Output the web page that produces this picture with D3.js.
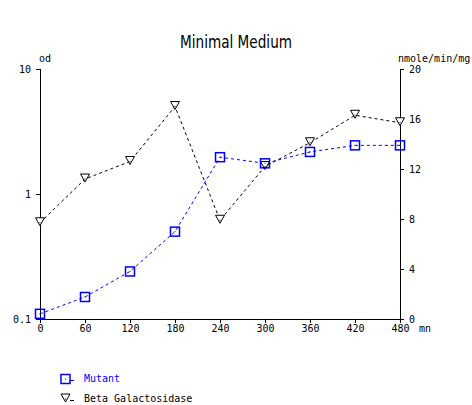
<!DOCTYPE html>
<html><head><meta charset="utf-8">
<script src="https://cdn.jsdelivr.net/npm/d3@7"></script>
<style>
body{margin:0;background:#fff;}
svg{display:block;}
text{font-family:"DejaVu Sans Mono",monospace;font-size:10px;}
</style></head>
<body>
<svg id="chart" width="472" height="405"></svg>
<script>
const times = [0, 60, 120, 180, 240, 300, 360, 420, 480];
const mutantOD = [0.11, 0.15, 0.24, 0.5, 1.97, 1.76, 2.17, 2.45, 2.45];
const betaGal = [7.7, 11.2, 12.6, 17.0, 7.9, 12.2, 14.1, 16.3, 15.7];
const xTicks = [0, 60, 120, 180, 240, 300, 360, 420, 480];
const leftTicks = [0.1, 1, 10];
const leftTickLabels = ["0.1", "1", "10"];
const rightTicks = [0, 4, 8, 12, 16, 20];
const seriesNames = ["Mutant", "Beta Galactosidase"];

const svg = d3.select("#chart");
const x = d3.scaleLinear().domain([0, 480]).range([40, 400]);
const yL = d3.scaleLog().domain([0.1, 10]).range([319, 69]);
const yR = d3.scaleLinear().domain([0, 20]).range([319, 69]);

// title
svg.append("text").attr("x", 236).attr("y", 48).attr("text-anchor", "middle")
  .attr("textLength", 112).attr("lengthAdjust", "spacingAndGlyphs")
  .style("font-family", "'DejaVu Sans',sans-serif").style("font-size", "17px")
  .style("font-weight", "normal").attr("fill", "#000")
  .text("Minimal Medium");

// bottom axis
const xAxis = d3.axisBottom(x).tickValues(xTicks).tickSize(4).tickPadding(3).tickFormat(d3.format("d"));
const gx = svg.append("g").attr("transform", "translate(0,319)").call(xAxis);
gx.select(".domain").attr("d", "M40,0.5H401").attr("stroke", "#000").attr("stroke-width", 1);
gx.selectAll("text").style("font-size", "10px").attr("dy", "0.6em");

// left axis
const yAxisL = d3.axisLeft(yL).tickValues(leftTicks).tickSize(4).tickPadding(5)
  .tickFormat((d, i) => leftTickLabels[i]);
const gl = svg.append("g").attr("transform", "translate(40,0)").call(yAxisL);
gl.select(".domain").attr("d", "M0.5,69V320").attr("stroke-width", 1);

// right axis
const yAxisR = d3.axisRight(yR).tickValues(rightTicks).tickSize(4).tickPadding(5);
const gr = svg.append("g").attr("transform", "translate(400,0)").call(yAxisR);
gr.select(".domain").attr("d", "M0.5,69V320").attr("stroke-width", 1);
svg.selectAll(".tick text").style("font-family", "'DejaVu Sans Mono',monospace").style("font-size", "10px");

// axis unit labels
svg.append("text").attr("x", 39).attr("y", 62).text("od");
svg.append("text").attr("x", 398).attr("y", 62).text("nmole/min/mg");
svg.append("text").attr("x", 419).attr("y", 332).text("mn");

// lines
const lineL = d3.line().x((d, i) => x(times[i])).y(d => yL(d));
const lineR = d3.line().x((d, i) => x(times[i])).y(d => yR(d));

svg.append("path").datum(betaGal).attr("d", lineR).attr("fill", "none")
  .attr("stroke", "#000").attr("stroke-width", 1).attr("stroke-dasharray", "3,3");
svg.append("path").datum(mutantOD).attr("d", lineL).attr("fill", "none")
  .attr("stroke", "#0000ff").attr("stroke-width", 1).attr("stroke-dasharray", "3,3");

function tri(g, cx, cy) {
  g.append("path").attr("d", `M${cx-4.5},${cy-5}H${cx+4.5}L${cx},${cy+3}Z`)
    .attr("fill", "#fff").attr("stroke", "#000").attr("stroke-width", 1);
  g.append("rect").attr("x", cx - 0.5).attr("y", cy - 0.5).attr("width", 1).attr("height", 1).attr("fill", "#000");
}
function sq(g, cx, cy) {
  g.append("rect").attr("x", cx - 4.5).attr("y", cy - 4.5).attr("width", 9).attr("height", 9)
    .attr("fill", "#fff").attr("fill-opacity", 0).attr("stroke", "#0000ff").attr("stroke-width", 1.5);
  g.append("rect").attr("x", cx - 0.5).attr("y", cy - 0.5).attr("width", 1).attr("height", 1).attr("fill", "#0000ff");
}
const gm = svg.append("g");
betaGal.forEach((v, i) => tri(gm, x(times[i]), yR(v)));
mutantOD.forEach((v, i) => sq(gm, x(times[i]), yL(v)));

// legend
const lg = svg.append("g");
sq(lg, 65.5, 379);
lg.append("line").attr("x1", 70).attr("x2", 74).attr("y1", 380.5).attr("y2", 380.5).attr("stroke", "#0000ff");
lg.append("text").attr("x", 84).attr("y", 382).attr("fill", "#0000ff").text(seriesNames[0]);
tri(lg, 65.5, 399);
lg.append("line").attr("x1", 70).attr("x2", 74).attr("y1", 400.5).attr("y2", 400.5).attr("stroke", "#000");
lg.append("text").attr("x", 84).attr("y", 402).attr("fill", "#000").text(seriesNames[1]);
</script>
</body></html>
